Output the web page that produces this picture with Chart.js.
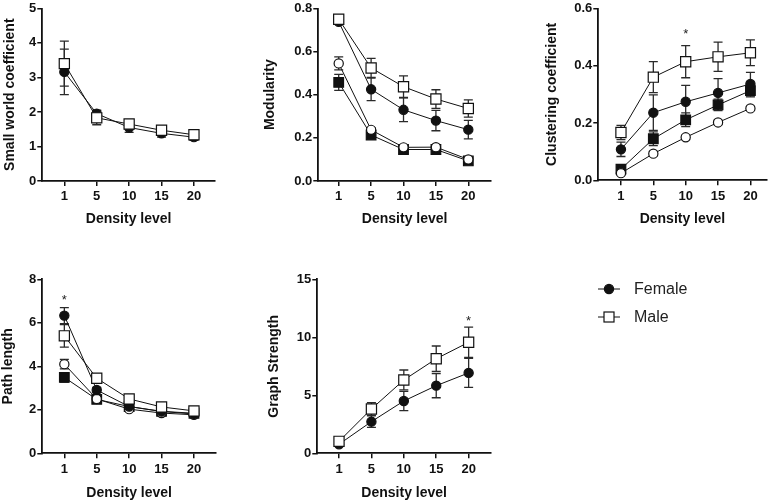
<!DOCTYPE html>
<html><head><meta charset="utf-8">
<script src="https://cdn.jsdelivr.net/npm/chart.js@4/dist/chart.umd.min.js"></script>
<style>
html,body{margin:0;padding:0;background:#fff;}
#wrap{position:relative;width:775px;height:503px;overflow:hidden;background:#fff;}
canvas.c{position:absolute;left:0;top:0;}
.lg{position:absolute;font-family:"Liberation Sans",Arial,sans-serif;font-size:16px;color:#222;height:20px;line-height:20px;white-space:nowrap;}
.lg svg{position:absolute;left:0;top:0;}
.lg span{position:absolute;left:36px;top:0;}
</style></head><body>
<div id="wrap">
<canvas id="c1" class="c" width="775" height="503"></canvas>
<canvas id="c2" class="c" width="775" height="503"></canvas>
<canvas id="c3" class="c" width="775" height="503"></canvas>
<canvas id="c4" class="c" width="775" height="503"></canvas>
<canvas id="c5" class="c" width="775" height="503"></canvas>
</div>
<script>
// ---------- DATA ----------
const densityLevels = ['1', '5', '10', '15', '20'];
const seriesNames = ['Male', 'Female', 'Female (B)', 'Male (B)'];

// Small world coefficient
const swMale = [3.40, 1.83, 1.65, 1.47, 1.34];
const swMaleErr = [0.65, 0.20, 0.11, 0.08, 0.07];
const swFemale = [3.16, 1.95, 1.55, 1.38, 1.27];
const swFemaleErr = [0.66, 0.10, 0.14, 0.11, 0.09];

// Modularity
const modMale = [0.750, 0.524, 0.437, 0.380, 0.336];
const modMaleErr = [0.010, 0.044, 0.050, 0.043, 0.040];
const modFemale = [0.738, 0.425, 0.330, 0.280, 0.238];
const modFemaleErr = [0.010, 0.052, 0.055, 0.047, 0.043];
const modOpenCircle = [0.545, 0.237, 0.156, 0.157, 0.100];
const modOpenCircleErr = [0.030, 0.010, 0.006, 0.006, 0.005];
const modFilledSquare = [0.457, 0.213, 0.146, 0.146, 0.093];
const modFilledSquareErr = [0.037, 0.010, 0.006, 0.006, 0.005];

// Clustering coefficient
const clMale = [0.167, 0.360, 0.414, 0.431, 0.445];
const clMaleErr = [0.025, 0.054, 0.056, 0.051, 0.045];
const clFemale = [0.108, 0.236, 0.274, 0.305, 0.336];
const clFemaleErr = [0.025, 0.062, 0.057, 0.050, 0.041];
const clOpenCircle = [0.025, 0.093, 0.150, 0.202, 0.251];
const clOpenCircleErr = [0.005, 0.008, 0.008, 0.008, 0.007];
const clFilledSquare = [0.039, 0.145, 0.211, 0.263, 0.313];
const clFilledSquareErr = [0.006, 0.024, 0.024, 0.020, 0.022];

// Path length
const plMale = [5.40, 3.45, 2.50, 2.13, 1.95];
const plMaleErr = [0.52, 0.15, 0.10, 0.07, 0.05];
const plFemale = [6.33, 2.91, 2.15, 1.92, 1.81];
const plFemaleErr = [0.37, 0.12, 0.08, 0.06, 0.06];
const plOpenCircle = [4.10, 2.50, 2.03, 1.85, 1.77];
const plOpenCircleErr = [0.22, 0.06, 0.04, 0.03, 0.03];
const plFilledSquare = [3.49, 2.48, 2.15, 1.93, 1.84];
const plFilledSquareErr = [0.22, 0.08, 0.05, 0.04, 0.03];

// Graph strength
const gsMale = [1.03, 3.82, 6.32, 8.15, 9.57];
const gsMaleErr = [0.10, 0.55, 0.86, 1.10, 1.30];
const gsFemale = [0.78, 2.73, 4.51, 5.83, 6.93];
const gsFemaleErr = [0.08, 0.50, 0.83, 1.04, 1.25];

// significance markers: [category index, y value]
const clStar = [2, 0.524];
const plStar = [0, 7.2];
const gsStar = [4, 11.66];

// ---------- STYLE ----------
const FONT = '"Liberation Sans", Arial, sans-serif';
const INK = '#111';
const styles = {
  male: {pointStyle:'rect', pointRadius:7.2, backgroundColor:'#fff'},
  female: {pointStyle:'circle', pointRadius:4.6, backgroundColor:'#111'},
  openCircle: {pointStyle:'circle', pointRadius:4.6, backgroundColor:'#fff'},
  filledSquare: {pointStyle:'rect', pointRadius:6.8, backgroundColor:'#111'}
};

function ds(name, vals, errs, st){
  return {
    label: name,
    data: vals.map((v, i) => ({x: i, y: v})),
    errors: errs,
    borderColor: INK,
    borderWidth: 1,
    pointBorderColor: INK,
    pointBorderWidth: 1.2,
    pointHoverRadius: st.pointRadius,
    pointBackgroundColor: st.backgroundColor,
    pointStyle: st.pointStyle,
    pointRadius: st.pointRadius,
    fill: false,
    tension: 0,
    clip: false
  };
}

const errorBars = {
  id: 'errorBars',
  beforeDatasetsDraw(chart){
    const ctx = chart.ctx, xs = chart.scales.x, ys = chart.scales.y;
    ctx.save();
    ctx.strokeStyle = '#2a2a2a';
    ctx.lineWidth = 1.3;
    chart.data.datasets.forEach(d => {
      if (!d.errors) return;
      d.data.forEach((p, j) => {
        const e = d.errors[j];
        const x = xs.getPixelForValue(p.x);
        const y1 = ys.getPixelForValue(p.y + e), y2 = ys.getPixelForValue(p.y - e);
        ctx.beginPath();
        ctx.moveTo(x, y1); ctx.lineTo(x, y2);
        ctx.moveTo(x - 4.5, y1); ctx.lineTo(x + 4.5, y1);
        ctx.moveTo(x - 4.5, y2); ctx.lineTo(x + 4.5, y2);
        ctx.stroke();
      });
    });
    ctx.restore();
  },
  afterDatasetsDraw(chart){
    const st = chart.options.plugins.errorBars && chart.options.plugins.errorBars.star;
    if (!st) return;
    const ctx = chart.ctx;
    const x = chart.scales.x.getPixelForValue(st[0]);
    const y = chart.scales.y.getPixelForValue(st[1]);
    ctx.save();
    ctx.fillStyle = '#222';
    ctx.font = '13px ' + FONT;
    ctx.textAlign = 'center';
    ctx.textBaseline = 'alphabetic';
    ctx.fillText('*', x, y + 7.4);
    ctx.restore();
  }
};
Chart.register(errorBars);

function makeChart(id, cfg){
  const a = cfg.area;
  const yBoxLeft = cfg.yTitleCx - 8.4;
  const xBoxBottom = cfg.xTitleCy + 8.4;
  const yW = a.l - yBoxLeft;
  const xH = xBoxBottom - a.b;
  return new Chart(document.getElementById(id), {
    type: 'line',
    data: {datasets: cfg.datasets},
    options: {
      responsive: false,
      devicePixelRatio: 1,
      animation: false,
      events: [],
      layout: {padding: {left: yBoxLeft, top: a.t, right: 775 - a.r, bottom: 503 - xBoxBottom}},
      plugins: {legend: {display: false}, tooltip: {enabled: false}, errorBars: {star: cfg.star}},
      scales: {
        x: {
          type: 'linear', min: cfg.xmin, max: cfg.xmax,
          afterBuildTicks: s => { s.ticks = densityLevels.map((c, i) => ({value: i})); },
          afterFit: s => { s.height = xH; s.paddingLeft = 0; s.paddingRight = 0; },
          ticks: {callback: v => densityLevels[v], autoSkip: false, maxRotation: 0, padding: 3,
                  color: INK, font: {family: FONT, size: 13, weight: 'bold'}},
          grid: {drawOnChartArea: false, drawTicks: true, tickLength: 5, color: INK, lineWidth: 1.5},
          border: {display: true, color: INK, width: 1.8},
          title: {display: true, text: 'Density level', color: INK, padding: 0,
                  font: {family: FONT, size: 14, weight: 'bold'}}
        },
        y: {
          min: 0, max: cfg.ymax,
          afterFit: s => { s.width = yW; s.paddingTop = 0; s.paddingBottom = 0; },
          ticks: {stepSize: cfg.step, padding: 1, color: INK, callback: cfg.fmt,
                  font: {family: FONT, size: 13, weight: 'bold'}},
          grid: {drawOnChartArea: false, drawTicks: true, tickLength: 5, color: INK, lineWidth: 1.5},
          border: {display: true, color: INK, width: 1.8},
          title: {display: true, text: cfg.yTitle, color: INK, padding: 0,
                  font: {family: FONT, size: 14, weight: 'bold'}}
        }
      }
    }
  });
}

const intFmt = v => String(v);
const decFmt = v => v.toFixed(1);

makeChart('c1', {
  area: {l: 42.3, t: 6.5, r: 215, b: 181}, xmin: -0.68, xmax: 4.65,
  yTitleCx: 10, xTitleCy: 219.5, ymax: 5, step: 1, fmt: intFmt, yTitle: 'Small world coefficient',
  datasets: [ds(seriesNames[0], swMale, swMaleErr, styles.male),
             ds(seriesNames[1], swFemale, swFemaleErr, styles.female)]
});
makeChart('c2', {
  area: {l: 318.3, t: 6.7, r: 491, b: 181}, xmin: -0.63, xmax: 4.70,
  yTitleCx: 270, xTitleCy: 219.5, ymax: 0.8, step: 0.2, fmt: decFmt, yTitle: 'Modularity',
  datasets: [ds(seriesNames[0], modMale, modMaleErr, styles.male),
             ds(seriesNames[1], modFemale, modFemaleErr, styles.female),
             ds(seriesNames[2], modOpenCircle, modOpenCircleErr, styles.openCircle),
             ds(seriesNames[3], modFilledSquare, modFilledSquareErr, styles.filledSquare)]
});
makeChart('c3', {
  area: {l: 598.3, t: 6, r: 766.7, b: 180.3}, xmin: -0.70, xmax: 4.50,
  yTitleCx: 552, xTitleCy: 219.5, ymax: 0.6, step: 0.2, fmt: decFmt, yTitle: 'Clustering coefficient',
  star: clStar,
  datasets: [ds(seriesNames[0], clMale, clMaleErr, styles.male),
             ds(seriesNames[1], clFemale, clFemaleErr, styles.female),
             ds(seriesNames[2], clOpenCircle, clOpenCircleErr, styles.openCircle),
             ds(seriesNames[3], clFilledSquare, clFilledSquareErr, styles.filledSquare)]
});
makeChart('c4', {
  area: {l: 42.3, t: 279.3, r: 216, b: 453.3}, xmin: -0.68, xmax: 4.68,
  yTitleCx: 8, xTitleCy: 493, ymax: 8, step: 2, fmt: intFmt, yTitle: 'Path length',
  star: plStar,
  datasets: [ds(seriesNames[0], plMale, plMaleErr, styles.male),
             ds(seriesNames[1], plFemale, plFemaleErr, styles.female),
             ds(seriesNames[2], plOpenCircle, plOpenCircleErr, styles.openCircle),
             ds(seriesNames[3], plFilledSquare, plFilledSquareErr, styles.filledSquare)]
});
makeChart('c5', {
  area: {l: 317.3, t: 279.3, r: 491, b: 453.3}, xmin: -0.67, xmax: 4.69,
  yTitleCx: 274, xTitleCy: 493, ymax: 15, step: 5, fmt: intFmt, yTitle: 'Graph Strength',
  star: gsStar,
  datasets: [ds(seriesNames[0], gsMale, gsMaleErr, styles.male),
             ds(seriesNames[1], gsFemale, gsFemaleErr, styles.female)]
});

// ---------- LEGEND (Female, Male) ----------
const wrap = document.getElementById('wrap');
const legendItems = [
  {name: seriesNames[1], fill: '#111', shape: 'circle', top: 279},
  {name: seriesNames[0], fill: '#fff', shape: 'rect', top: 307}
];
legendItems.forEach(it => {
  const d = document.createElement('div');
  d.className = 'lg';
  d.style.left = '598px';
  d.style.top = it.top + 'px';
  const mark = it.shape === 'circle'
    ? `<circle cx="11" cy="10" r="4.6" fill="${it.fill}" stroke="#111" stroke-width="1.2"/>`
    : `<rect x="6" y="5" width="10" height="10" fill="${it.fill}" stroke="#111" stroke-width="1.2"/>`;
  d.innerHTML = `<svg width="24" height="20"><line x1="0" y1="10" x2="22" y2="10" stroke="#111" stroke-width="1"/>${mark}</svg><span>${it.name}</span>`;
  wrap.appendChild(d);
});
</script>
</body></html>
